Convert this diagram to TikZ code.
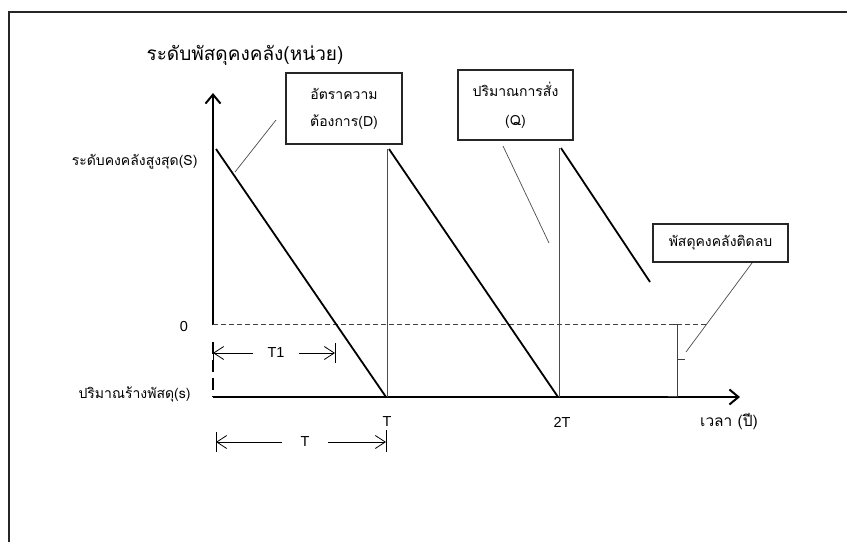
\documentclass[tikz,border=0pt]{standalone}
\usepackage{fontspec}
\setmainfont{Liberation Sans}
\newfontfamily\thai[Script=Thai]{Loma}
\usetikzlibrary{arrows.meta}

\tikzset{
  axis/.style={line width=2.4pt, -{Straight Barb[length=9pt,width=15pt,line width=2pt]}},
  saw/.style={line width=1.8pt},
  riser/.style={line width=0.7pt, draw=black!70},
  leader/.style={line width=0.7pt, draw=black!70},
  callout/.style={draw=black!85, line width=1.1pt, fill=white, align=center, inner sep=2pt},
  dimarrow/.style={line width=0.8pt, -{Straight Barb[length=10pt,width=13pt,line width=0.8pt]}},
  dimtick/.style={line width=0.9pt},
  zeroline/.style={line width=0.8pt, draw=black!75, dash pattern=on 5pt off 3pt},
  thaitxt/.style={font=\thai\fontsize{14}{16}\selectfont},
  latintxt/.style={font=\fontsize{14.5}{16}\selectfont},
  dimlabel/.style={font=\fontsize{14.5}{16}\selectfont, minimum width=46pt, inner sep=0pt}
}

\begin{document}
\begin{tikzpicture}[x=1pt,y=-1pt]
  \useasboundingbox (0,0) rectangle (847,542);
  \fill[white] (0,0) rectangle (847,542);

  % page frame (top and left edges)
  \draw[line width=1.2pt, draw=black!85] (9,542) -- (9,12) -- (847,12);

  % axes
  \coordinate (O) at (213,397);
  \coordinate (Ytip) at (213,93);
  \coordinate (Xtip) at (740,397);
  \coordinate (Yzero) at (213,325);
  \draw[axis] (Yzero) -- (Ytip);
  \draw[line width=2.4pt, dash pattern=on 12pt off 6pt] (213,342) -- (213,397);
  \draw[axis] (O) -- (Xtip);

  % zero level
  \coordinate (Zend) at (708,324);
  \draw[zeroline] (213,324) -- (Zend);

  % inventory sawtooth
  \coordinate (S0) at (216,149);
  \coordinate (B1) at (386,397);
  \coordinate (R1b) at (387,397);
  \coordinate (R1t) at (387,149);
  \coordinate (S1) at (389,149);
  \coordinate (B2) at (558,397);
  \coordinate (R2b) at (559,397);
  \coordinate (R2t) at (559,148);
  \coordinate (S2) at (561,148);
  \coordinate (E3) at (650,282);
  \draw[saw] (S0) -- (B1);
  \draw[riser] (R1b) -- (R1t);
  \draw[saw] (S1) -- (B2);
  \draw[riser] (R2b) -- (R2t);
  \draw[saw] (S2) -- (E3);

  % shortage bracket
  \coordinate (Kt) at (677,324);
  \coordinate (Kb) at (677,396);
  \coordinate (Km) at (677,359);
  \coordinate (Kmr) at (685,359);
  \draw[line width=0.8pt, draw=black!75] (673,324) -- (Kt) -- (Kb) -- (668,396);
  \draw[line width=0.8pt, draw=black!75] (Km) -- (Kmr);

  % axis titles and level labels
  \node[font=\thai\fontsize{19}{21}\selectfont] (ytitle) at (245,55) {ระดับพัสดุคงคลัง(หน่วย)};
  \node[thaitxt, anchor=east] (Slab) at (201,162) {ระดับคงคลังสูงสุด(S)};
  \node[latintxt] (zlab) at (184,327) {0};
  \node[thaitxt, anchor=east] (slab) at (194,394) {ปริมาณร้างพัสดุ(s)};
  \node[latintxt] (Tlab) at (387,422) {T};
  \node[latintxt] (TTlab) at (562,422) {2T};
  \node[font=\thai\fontsize{15.5}{17}\selectfont] (xtitle) at (729,422) {เวลา (ปี)};

  % callouts
  \node[callout, minimum width=116pt, minimum height=71pt,
        font=\thai\fontsize{14}{27}\selectfont] (boxD) at (344,108.5)
        {อัตราความ\\ต้องการ(D)};
  \node[callout, minimum width=115pt, minimum height=70pt,
        font=\thai\fontsize{14}{29}\selectfont] (boxQ) at (515.5,105)
        {ปริมาณการสั่ง\\(Q)};
  \node[callout, minimum width=135pt, minimum height=38pt,
        font=\thai\fontsize{14}{16}\selectfont] (boxN) at (720.5,243)
        {พัสดุคงคลังติดลบ};

  % leader lines
  \coordinate (Dl1) at (276,120);
  \coordinate (Dl2) at (235,172);
  \coordinate (Ql1) at (503,146);
  \coordinate (Ql2) at (549,243);
  \coordinate (Nl1) at (752,263);
  \coordinate (Nl2) at (686,352);
  \draw[leader] (Dl1) -- (Dl2);
  \draw[leader] (Ql1) -- (Ql2);
  \draw[leader] (Nl1) -- (Nl2);

  % T1 dimension
  \coordinate (t1a) at (213,353);
  \coordinate (t1b) at (335,353);
  \node[dimlabel] (T1lab) at (276,353) {T1};
  \draw[dimtick] (213,343) -- (213,363);
  \draw[dimtick] (335,343) -- (335,363);
  \draw[dimarrow] (T1lab.west) -- (t1a);
  \draw[dimarrow] (T1lab.east) -- (t1b);

  % T dimension
  \coordinate (ta) at (216,442);
  \coordinate (tb) at (386,442);
  \node[dimlabel] (TTdim) at (305,442) {T};
  \draw[dimtick] (216,432) -- (216,452);
  \draw[dimtick] (386,430) -- (386,452);
  \draw[dimarrow] (TTdim.west) -- (ta);
  \draw[dimarrow] (TTdim.east) -- (tb);
\end{tikzpicture}
\end{document}
